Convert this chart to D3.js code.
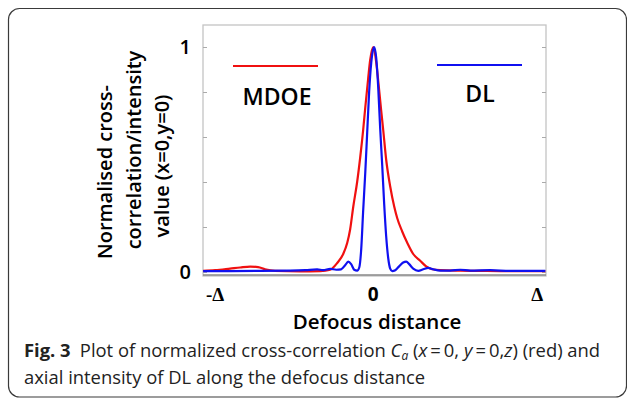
<!DOCTYPE html>
<html>
<head>
<meta charset="utf-8">
<script src="https://cdn.jsdelivr.net/npm/d3@7"></script>
<style>
  body { margin: 0; background: #fff; }
  svg { display: block; }
</style>
</head>
<body>
<div id="chart"></div>
<script>
// values (x in units of Delta, y normalised)
const mdoeX = [-1.049, -0.975, -0.883, -0.821, -0.759, -0.71, -0.667, -0.605, -0.451, -0.327,
  -0.265, -0.222, -0.185, -0.16, -0.142, -0.123, -0.099, -0.08, -0.062, -0.049, -0.031, -0.019,
  0, 0.019, 0.031, 0.049, 0.062, 0.08, 0.105, 0.13, 0.148, 0.179, 0.21, 0.247, 0.29, 0.327,
  0.364, 0.414, 0.537, 0.66, 0.784, 1.062];
const mdoeY = [0.005, 0.008, 0.015, 0.02, 0.024, 0.022, 0.012, 0.005, 0.003, 0.004,
  0.01, 0.04, 0.08, 0.13, 0.19, 0.29, 0.4, 0.51, 0.63, 0.73, 0.86, 0.94,
  1.0, 0.93, 0.85, 0.72, 0.63, 0.5, 0.38, 0.29, 0.24, 0.18, 0.13, 0.08, 0.05, 0.025,
  0.012, 0.008, 0.006, 0.005, 0.004, 0.004];

const dlX = [-1.049, -0.883, -0.698, -0.512, -0.42, -0.346, -0.309, -0.265, -0.228, -0.198,
  -0.173, -0.154, -0.136, -0.117, -0.099, -0.086, -0.074, -0.062, -0.049, -0.037, -0.025,
  -0.012, 0, 0.006, 0.019, 0.031, 0.043, 0.056, 0.068, 0.08, 0.093, 0.105, 0.117, 0.136,
  0.16, 0.185, 0.204, 0.222, 0.247, 0.278, 0.309, 0.34, 0.37, 0.414, 0.475, 0.537, 0.599,
  0.722, 0.846, 1.062];
const dlY = [0.004, 0.004, 0.005, 0.006, 0.008, 0.012, 0.008, 0.014, 0.01, 0.012,
  0.03, 0.046, 0.035, 0.01, 0.006, 0.02, 0.1, 0.27, 0.44, 0.62, 0.8,
  0.93, 0.99, 1.0, 0.95, 0.82, 0.64, 0.47, 0.3, 0.16, 0.06, 0.015, 0.004, 0.008,
  0.025, 0.042, 0.046, 0.035, 0.015, 0.005, 0.012, 0.018, 0.012, 0.006, 0.006, 0.01, 0.006,
  0.008, 0.005, 0.005];

const xTicks = [-1, 0, 1];
const xTickLabels = ["-\u0394", "0", "\u0394"];
const yTicks = [0, 0.2, 0.4, 0.6, 0.8, 1];
const yTickLabels = { 0: "0", 1: "1" };
const yTitle = ["Normalised cross-", "correlation/intensity", "value (x=0,y=0)"];
const seriesNames = ["MDOE", "DL"];
const seriesColors = ["#f01010", "#1010f0"];

function drawChart() {
  const W = 627, H = 400;
  // plot box
  const box = { left: 203, right: 546, top: 25, bottom: 276 };

  const svg = d3
    .select("#chart")
    .append("svg")
    .attr("width", W)
    .attr("height", H);

  // rounded figure frame (right edge runs just off the picture)
  svg
    .append("rect")
    .attr("x", 8.5)
    .attr("y", 8.5)
    .attr("width", 618)
    .attr("height", 388.5)
    .attr("rx", 11)
    .attr("fill", "none")
    .attr("stroke", "#3a3a3a")
    .attr("stroke-width", 1.2);

  var x = d3.scaleLinear().domain([-1.05, 1.06]).range([box.left, box.right - 1]);
  var y = d3.scaleLinear().domain([0, 1]).range([272, 47]);

  // gray box round the plot
  svg
    .append("rect")
    .attr("x", box.left)
    .attr("y", box.top)
    .attr("width", box.right - box.left)
    .attr("height", box.bottom - box.top)
    .attr("fill", "none")
    .attr("stroke", "#c4c4c4")
    .attr("stroke-width", 1.3);

  // inner ticks left and right
  svg
    .append("g")
    .attr("transform", "translate(" + box.left + ",0)")
    .call(d3.axisRight(y).tickValues(yTicks).tickSize(4).tickFormat(""))
    .call((g) => g.select(".domain").remove())
    .selectAll("line")
    .attr("stroke", "#aaa");
  svg
    .append("g")
    .attr("transform", "translate(" + box.right + ",0)")
    .call(d3.axisLeft(y).tickValues(yTicks).tickSize(4).tickFormat(""))
    .call((g) => g.select(".domain").remove())
    .selectAll("line")
    .attr("stroke", "#aaa");

  // darker bottom line
  svg
    .append("line")
    .attr("x1", box.left)
    .attr("x2", box.right)
    .attr("y1", box.bottom - 1)
    .attr("y2", box.bottom - 1)
    .attr("stroke", "#888")
    .attr("stroke-width", 1.5);

  // y tick labels
  svg
    .selectAll(".ylab")
    .data(yTicks.filter((d) => yTickLabels[d] !== undefined))
    .enter()
    .append("text")
    .attr("class", "ylab")
    .attr("x", box.left - 12)
    .attr("y", (d) => y(d) + 7)
    .attr("text-anchor", "end")
    .style("font-family", "'Open Sans', sans-serif")
    .style("font-weight", 600)
    .style("font-size", "20px")
    .text((d) => yTickLabels[d]);

  // x tick labels (Delta in a serif face)
  svg
    .selectAll(".xlab")
    .data(xTicks)
    .enter()
    .append("text")
    .attr("class", "xlab")
    .attr("x", (d) => x(d) + (d < 0 ? 4 : d > 0 ? 2 : 0))
    .attr("y", 301)
    .attr("text-anchor", "middle")
    .style("font-family", (d) => (d === 0 ? "'Open Sans', sans-serif" : "'Liberation Serif', serif"))
    .style("font-weight", 700)
    .style("font-size", "19px")
    .text((d, i) => xTickLabels[i]);

  // x title
  svg
    .append("text")
    .attr("x", 377)
    .attr("y", 328.5)
    .attr("text-anchor", "middle")
    .style("font-family", "'Open Sans', sans-serif")
    .style("font-weight", 600)
    .style("font-size", "20.5px")
    .text("Defocus distance");

  // y title, three rotated lines
  const yTitleX = [112, 141, 169];
  const yTitleMid = [172, 150, 166];
  yTitle.forEach(function (t, i) {
    svg
      .append("text")
      .attr("transform", "translate(" + yTitleX[i] + "," + yTitleMid[i] + ") rotate(-90)")
      .attr("text-anchor", "middle")
      .style("font-family", "'Open Sans', sans-serif")
      .style("font-weight", 600)
      .style("font-size", "20px")
      .text(t);
  });

  // curves
  const series = [
    { name: seriesNames[0], xs: mdoeX, ys: mdoeY, color: seriesColors[0] },
    { name: seriesNames[1], xs: dlX, ys: dlY, color: seriesColors[1] },
  ];
  var line = d3
    .line()
    .x((d) => x(d[0]))
    .y((d) => y(d[1]))
    .curve(d3.curveMonotoneX);
  series.forEach(function (s) {
    svg
      .append("path")
      .datum(d3.zip(s.xs, s.ys))
      .attr("fill", "none")
      .attr("stroke", s.color)
      .attr("stroke-width", 2.2)
      .attr("stroke-linejoin", "round")
      .attr("d", line);
  });

  // legends
  const legend = [
    { x1: 233, x2: 318, ly: 66, tx: 277, ty: 105 },
    { x1: 437, x2: 522, ly: 65, tx: 480, ty: 102 },
  ];
  legend.forEach(function (l, i) {
    svg
      .append("line")
      .attr("x1", l.x1)
      .attr("x2", l.x2)
      .attr("y1", l.ly)
      .attr("y2", l.ly)
      .attr("stroke", seriesColors[i])
      .attr("stroke-width", 2.2);
    svg
      .append("text")
      .attr("x", l.tx)
      .attr("y", l.ty)
      .attr("text-anchor", "middle")
      .style("font-family", "'Open Sans', sans-serif")
      .style("font-weight", 600)
      .style("font-size", "23px")
      .text(seriesNames[i]);
  });

  // caption
  var cap = svg
    .append("text")
    .attr("x", 24)
    .attr("y", 357)
    .style("font-family", "'Open Sans', sans-serif")
    .style("font-size", "18.4px")
    .attr("fill", "#222");
  cap.append("tspan").style("font-weight", 700).text("Fig. 3");
  cap.append("tspan").text("\u2002Plot of normalized cross-correlation ");
  cap.append("tspan").style("font-style", "italic").text("C");
  cap.append("tspan").style("font-style", "italic").style("font-size", "12px").attr("dy", 3).text("a");
  cap.append("tspan").attr("dy", -3).text(" (");
  cap.append("tspan").style("font-style", "italic").text("x");
  cap.append("tspan").text("\u2009=\u20090, ");
  cap.append("tspan").style("font-style", "italic").text("y");
  cap.append("tspan").text("\u2009=\u20090,");
  cap.append("tspan").style("font-style", "italic").text("z");
  cap.append("tspan").text(") (red) and");

  svg
    .append("text")
    .attr("x", 24)
    .attr("y", 384)
    .style("font-family", "'Open Sans', sans-serif")
    .style("font-size", "18.4px")
    .attr("fill", "#222")
    .text("axial intensity of DL along the defocus distance");
}

drawChart();
</script>
</body>
</html>
